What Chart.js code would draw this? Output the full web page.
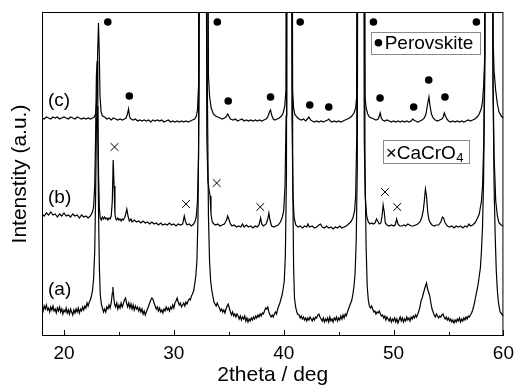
<!DOCTYPE html>
<html lang="en">
<head>
<meta charset="UTF-8">
<script src="https://cdn.jsdelivr.net/npm/chart.js"></script>
<title>XRD patterns</title>
<style>
  html, body { margin: 0; padding: 0; background: #fff; }
  #box { width: 520px; height: 388px; }
</style>
</head>
<body>
<div id="box"><canvas id="xrdChart"></canvas></div>
<script>
// x axis
const xTicks = [20, 30, 40, 50, 60];
const xMinorTicks = [25, 35, 45, 55];

// patterns, [2theta, intensity] (arbitrary, stacked offsets)
const patternA = [
  [18.0,29],[18.1,25],[18.2,30],[18.3,27],[18.4,31],[18.5,26],[18.6,28],[18.7,24],[18.8,29],[18.9,26],
  [19.0,30],[19.1,25],[19.2,27],[19.3,23],[19.4,28],[19.5,25],[19.6,29],[19.7,24],[19.8,27],[19.9,22],
  [20.0,26],[20.1,24],[20.2,28],[20.3,23],[20.4,26],[20.5,22],[20.6,27],[20.7,24],[20.8,21],[20.9,26],
  [21.0,23],[21.1,27],[21.2,24],[21.3,28],[21.4,23],[21.5,27],[21.6,25],[21.7,29],[21.8,26],[21.9,30],
  [22.0,28],[22.1,33],[22.2,30],[22.3,34],[22.4,36],[22.5,40],[22.6,46],[22.7,58],[22.8,85],[22.88,140],
  [22.95,210],[23.02,230],[23.08,200],[23.15,120],[23.22,70],[23.3,42],[23.4,32],[23.5,28],[23.6,24],[23.7,27],
  [23.8,24],[23.9,29],[24.0,27],[24.1,31],[24.2,28],[24.3,33],[24.4,43],[24.45,49],[24.52,40],[24.6,32],
  [24.7,29],[24.8,33],[24.9,27],[25.0,31],[25.1,28],[25.2,33],[25.3,29],[25.4,32],[25.5,36],[25.6,38],
  [25.7,33],[25.8,29],[25.9,33],[26.0,28],[26.1,32],[26.2,27],[26.3,31],[26.4,26],[26.5,30],[26.6,27],
  [26.7,29],[26.8,25],[26.9,28],[27.0,24],[27.1,27],[27.2,22],[27.3,25],[27.4,21],[27.5,24],[27.6,27],
  [27.7,30],[27.8,33],[27.9,36],[28.0,38],[28.1,37],[28.2,33],[28.3,30],[28.4,27],[28.5,29],[28.6,25],
  [28.7,28],[28.8,24],[28.9,26],[29.0,23],[29.1,27],[29.2,25],[29.3,29],[29.4,26],[29.5,28],[29.6,25],
  [29.7,29],[29.8,27],[29.9,31],[30.0,28],[30.1,33],[30.2,35],[30.3,38],[30.4,34],[30.5,31],[30.6,33],
  [30.7,29],[30.8,31],[30.9,33],[31.0,30],[31.1,34],[31.2,32],[31.3,35],[31.4,37],[31.5,36],[31.6,40],
  [31.7,42],[31.8,45],[31.9,52],[32.0,60],[32.1,75],[32.2,120],[32.3,250],[32.4,700],[32.95,700],[33.05,250],
  [33.15,120],[33.25,75],[33.35,55],[33.45,46],[33.55,40],[33.65,34],[33.75,32],[33.85,30],[33.95,33],[34.05,30],
  [34.15,28],[34.25,25],[34.35,27],[34.45,24],[34.55,26],[34.65,23],[34.75,27],[34.85,30],[34.95,32],[35.05,28],
  [35.15,24],[35.25,21],[35.35,24],[35.45,20],[35.55,22],[35.65,19],[35.75,22],[35.85,20],[35.95,17],[36.05,20],
  [36.15,16],[36.25,19],[36.35,17],[36.45,20],[36.55,15],[36.65,18],[36.75,14],[36.85,17],[36.95,15],[37.05,18],
  [37.15,16],[37.25,19],[37.35,17],[37.45,20],[37.55,18],[37.65,21],[37.75,19],[37.85,22],[37.95,20],[38.05,23],
  [38.15,22],[38.25,25],[38.35,28],[38.45,27],[38.55,29],[38.65,24],[38.75,21],[38.85,19],[38.95,21],[39.05,19],
  [39.15,22],[39.25,24],[39.35,22],[39.45,27],[39.55,30],[39.65,33],[39.75,37],[39.85,41],[39.95,47],[40.05,55],
  [40.15,80],[40.25,160],[40.32,700],[40.75,700],[40.82,160],[40.9,70],[40.98,38],[41.1,28],[41.25,22],[41.4,21],
  [41.5,18],[41.6,20],[41.7,17],[41.8,19],[41.9,16],[42.0,18],[42.1,15],[42.2,18],[42.3,16],[42.4,19],
  [42.5,17],[42.6,15],[42.7,18],[42.8,16],[42.9,19],[43.0,18],[43.1,21],[43.2,22],[43.3,19],[43.4,17],
  [43.5,15],[43.6,18],[43.7,14],[43.8,17],[43.9,15],[44.0,18],[44.1,14],[44.2,19],[44.3,15],[44.4,17],
  [44.5,14],[44.6,18],[44.7,16],[44.8,19],[44.9,15],[45.0,18],[45.1,16],[45.2,20],[45.3,17],[45.4,21],
  [45.5,18],[45.6,22],[45.7,20],[45.8,24],[45.9,27],[46.0,30],[46.1,33],[46.2,36],[46.3,42],[46.4,50],
  [46.5,63],[46.6,95],[46.7,170],[46.78,700],[47.3,700],[47.4,170],[47.5,90],[47.6,50],[47.7,36],[47.8,30],
  [47.9,28],[48.0,30],[48.1,27],[48.2,24],[48.3,25],[48.4,22],[48.5,24],[48.6,23],[48.7,25],[48.8,22],
  [48.9,20],[49.0,21],[49.1,18],[49.2,20],[49.3,16],[49.4,19],[49.5,17],[49.6,15],[49.7,18],[49.8,14],
  [49.9,17],[50.0,15],[50.1,18],[50.2,14],[50.3,17],[50.4,13],[50.5,16],[50.6,19],[50.7,15],[50.8,18],
  [50.9,14],[51.0,17],[51.1,15],[51.2,19],[51.3,16],[51.4,18],[51.5,15],[51.6,19],[51.7,17],[51.8,20],
  [51.9,18],[52.0,21],[52.1,19],[52.2,22],[52.3,25],[52.4,29],[52.5,35],[52.6,38],[52.7,42],[52.8,46],
  [52.9,50],[53.0,53],[53.08,48],[53.15,45],[53.27,41],[53.4,33],[53.5,27],[53.6,24],[53.7,21],[53.8,19],
  [53.9,22],[54.0,20],[54.1,18],[54.2,20],[54.3,19],[54.4,21],[54.5,22],[54.6,19],[54.7,17],[54.8,19],
  [54.9,16],[55.0,18],[55.1,15],[55.2,17],[55.3,14],[55.4,16],[55.5,13],[55.6,16],[55.7,14],[55.8,17],
  [55.9,15],[56.0,18],[56.1,14],[56.2,17],[56.3,15],[56.4,18],[56.5,16],[56.6,19],[56.7,17],[56.8,20],
  [56.9,19],[57.0,21],[57.1,23],[57.2,26],[57.3,30],[57.4,35],[57.5,41],[57.6,46],[57.7,52],[57.8,60],
  [57.9,68],[58.0,85],[58.1,110],[58.2,160],[58.3,260],[58.38,700],[58.95,700],[59.05,250],[59.15,150],[59.25,100],
  [59.35,65],[59.45,45],[59.55,33],[59.7,24],[59.85,22],[60.0,20]
];

const patternB = [
  [18.0,122],[18.2,120],[18.4,123],[18.6,121],[18.8,124],[19.0,121],[19.2,122],[19.4,119],[19.6,122],[19.8,120],
  [20.0,123],[20.2,120],[20.4,121],[20.6,119],[20.8,122],[21.0,120],[21.2,121],[21.4,118],[21.6,121],[21.8,119],
  [22.0,120],[22.2,118],[22.4,120],[22.5,122],[22.6,124],[22.7,130],[22.8,150],[22.88,200],[22.95,260],[23.02,275],
  [23.08,230],[23.15,160],[23.22,128],[23.3,118],[23.4,116],[23.5,119],[23.6,117],[23.7,119],[23.8,117],[23.9,118],
  [24.0,116],[24.1,118],[24.2,117],[24.3,120],[24.4,135],[24.48,176],[24.56,150],[24.64,122],[24.72,117],[24.8,116],
  [24.9,118],[25.0,116],[25.1,117],[25.2,115],[25.3,117],[25.4,116],[25.5,118],[25.6,121],[25.72,127],[25.85,119],
  [25.95,115],[26.1,117],[26.2,114],[26.4,116],[26.6,114],[26.8,115],[27.0,113],[27.2,115],[27.4,113],[27.6,114],
  [27.8,112],[28.0,114],[28.2,112],[28.4,113],[28.6,111],[28.8,113],[29.0,111],[29.2,112],[29.4,111],[29.6,113],
  [29.8,111],[30.0,112],[30.2,110],[30.4,112],[30.6,111],[30.8,112],[30.95,120],[31.05,115],[31.2,111],[31.4,112],
  [31.6,110],[31.8,112],[31.95,115],[32.05,120],[32.15,135],[32.25,180],[32.33,700],[32.9,700],[33.0,200],[33.1,155],
  [33.22,145],[33.3,140],[33.38,122],[33.5,114],[33.65,112],[33.8,111],[34.0,112],[34.2,110],[34.4,111],[34.6,112],
  [34.8,116],[34.9,120],[35.0,117],[35.15,112],[35.3,110],[35.5,111],[35.7,109],[35.9,110],[36.1,109],[36.25,112],
  [36.4,109],[36.6,111],[36.8,109],[37.0,110],[37.2,108],[37.4,110],[37.6,109],[37.75,111],[37.9,118],[38.0,112],
  [38.15,110],[38.4,112],[38.55,117],[38.65,123],[38.75,116],[38.9,110],[39.1,109],[39.3,110],[39.5,111],[39.7,114],
  [39.85,118],[40.0,125],[40.12,150],[40.22,220],[40.28,700],[40.68,700],[40.75,220],[40.85,140],[40.95,118],[41.1,111],
  [41.3,109],[41.5,110],[41.7,108],[41.9,110],[42.1,109],[42.2,112],[42.35,109],[42.6,110],[42.8,108],[43.0,109],
  [43.2,111],[43.35,112],[43.5,109],[43.7,108],[43.9,110],[44.1,108],[44.3,109],[44.5,107],[44.7,109],[44.9,108],
  [45.1,110],[45.3,108],[45.5,109],[45.7,110],[45.9,112],[46.1,114],[46.3,118],[46.45,125],[46.55,140],[46.65,200],
  [46.72,700],[47.25,700],[47.33,200],[47.42,140],[47.55,120],[47.7,114],[47.85,112],[48.0,113],[48.15,112],[48.3,113],
  [48.45,117],[48.55,115],[48.7,112],[48.85,113],[48.95,120],[49.05,131],[49.15,124],[49.25,113],[49.4,111],[49.6,110],
  [49.8,111],[50.0,110],[50.15,111],[50.28,117],[50.4,112],[50.55,110],[50.75,110],[50.95,111],[51.1,110],[51.3,112],
  [51.45,111],[51.6,110],[51.8,110],[52.0,111],[52.2,112],[52.4,114],[52.55,118],[52.7,125],[52.8,135],[52.9,147],
  [53.0,140],[53.1,125],[53.2,117],[53.35,113],[53.5,111],[53.7,110],[53.9,111],[54.1,111],[54.3,114],[54.45,119],
  [54.55,118],[54.7,113],[54.9,110],[55.1,109],[55.3,110],[55.5,108],[55.7,110],[55.9,109],[56.1,110],[56.3,108],
  [56.5,110],[56.7,109],[56.85,112],[57.0,110],[57.2,111],[57.4,113],[57.6,117],[57.8,122],[58.0,135],[58.1,150],
  [58.2,190],[58.3,280],[58.36,700],[58.95,700],[59.05,260],[59.15,180],[59.3,135],[59.45,120],[59.6,113],[59.8,111],
  [60.0,110]
];

const patternC = [
  [18.0,218],[18.2,217],[18.4,219],[18.6,218],[18.8,217],[19.0,219],[19.2,218],[19.4,219],[19.6,217],[19.8,218],
  [20.0,219],[20.2,218],[20.4,217],[20.6,219],[20.8,218],[21.0,217],[21.2,219],[21.4,218],[21.6,217],[21.8,218],
  [22.0,217],[22.2,218],[22.4,217],[22.6,218],[22.75,219],[22.88,222],[22.98,235],[23.06,280],[23.14,313],[23.21,285],
  [23.28,240],[23.38,224],[23.5,220],[23.7,219],[23.9,217],[24.1,218],[24.3,216],[24.5,218],[24.7,217],[24.9,216],
  [25.1,217],[25.3,216],[25.5,217],[25.65,218],[25.78,222],[25.88,227],[25.98,219],[26.1,217],[26.3,216],[26.5,217],
  [26.7,215],[26.9,216],[27.1,215],[27.3,216],[27.5,215],[27.7,216],[27.9,214],[28.1,216],[28.3,215],[28.5,216],
  [28.7,215],[28.9,216],[29.1,214],[29.3,215],[29.5,216],[29.7,214],[29.9,215],[30.1,214],[30.3,215],[30.5,214],
  [30.7,215],[30.9,214],[31.1,215],[31.3,214],[31.5,215],[31.7,216],[31.9,217],[32.05,220],[32.15,226],[32.25,250],
  [32.32,700],[33.05,700],[33.15,260],[33.25,240],[33.4,228],[33.6,222],[33.8,220],[34.0,219],[34.2,218],[34.4,217],
  [34.6,218],[34.75,219],[34.9,222],[35.0,220],[35.15,217],[35.4,216],[35.6,217],[35.8,215],[36.0,216],[36.2,217],
  [36.4,215],[36.6,216],[36.8,215],[37.0,216],[37.2,215],[37.4,216],[37.6,215],[37.8,216],[38.0,215],[38.2,216],
  [38.4,217],[38.55,219],[38.7,224],[38.8,226],[38.9,221],[39.05,217],[39.2,216],[39.4,217],[39.6,218],[39.8,220],
  [39.95,223],[40.1,230],[40.2,245],[40.28,700],[40.72,700],[40.8,245],[40.9,228],[41.0,222],[41.2,219],[41.4,217],
  [41.6,216],[41.8,217],[42.0,215],[42.15,217],[42.3,219],[42.45,216],[42.6,215],[42.8,214],[43.0,215],[43.2,214],
  [43.4,215],[43.6,214],[43.8,215],[44.0,216],[44.1,217],[44.25,215],[44.4,214],[44.6,215],[44.8,214],[45.0,215],
  [45.2,214],[45.4,215],[45.6,216],[45.8,217],[46.0,218],[46.2,220],[46.4,223],[46.55,228],[46.65,240],[46.75,700],
  [47.3,700],[47.4,240],[47.5,228],[47.65,222],[47.8,219],[48.0,218],[48.2,217],[48.4,216],[48.6,217],[48.7,220],
  [48.78,223],[48.88,218],[49.0,216],[49.2,215],[49.4,216],[49.6,215],[49.8,214],[50.0,215],[50.2,214],[50.4,215],
  [50.6,214],[50.8,215],[51.0,214],[51.2,215],[51.4,214],[51.6,215],[51.75,217],[51.85,216],[52.0,215],[52.2,214],
  [52.4,215],[52.6,216],[52.8,218],[52.95,222],[53.1,232],[53.22,239],[53.32,230],[53.45,222],[53.6,218],[53.8,216],
  [54.0,215],[54.2,216],[54.4,217],[54.52,219],[54.62,223],[54.72,220],[54.85,217],[55.0,215],[55.2,214],[55.4,215],
  [55.6,214],[55.8,215],[56.0,214],[56.2,215],[56.4,214],[56.6,215],[56.8,216],[57.0,215],[57.2,216],[57.4,217],
  [57.6,219],[57.8,222],[58.0,228],[58.1,235],[58.2,250],[58.3,280],[58.38,700],[58.95,700],[59.05,300],[59.15,265],
  [59.3,245],[59.45,232],[59.6,224],[59.8,220],[60.0,218]
];

// phase markers
const perovskitePeaks = [
  [23.99,314],[25.95,240],[33.96,314],[34.95,235],[38.8,239],[41.5,314],[42.37,231],
  [44.1,229],[48.17,314],[48.77,238],[51.83,229],[53.2,256],[54.68,239],[57.54,314]
];
const cacro4Peaks = [[24.6,189],[31.1,132],[33.9,153],[37.87,129],[49.22,144],[50.33,129]];

const curveLabels = ['(a)', '(b)', '(c)'];

const FONT = '"Liberation Sans", Arial, Helvetica, sans-serif';

const decorations = {
  id: 'decorations',
  afterDatasetsDraw(chart) {
    const { ctx, chartArea: a, scales: { x, y } } = chart;
    ctx.save();
    ctx.strokeStyle = '#000';
    ctx.lineWidth = 1;
    ctx.strokeRect(a.left + 0.5, a.top + 0.5, a.right - a.left - 1, a.bottom - a.top - 1);

    // ticks point inward
    ctx.beginPath();
    xTicks.forEach(v => {
      const px = Math.round(x.getPixelForValue(v)) + 0.5;
      ctx.moveTo(px, a.bottom); ctx.lineTo(px, a.bottom - 6);
    });
    xMinorTicks.forEach(v => {
      const px = Math.round(x.getPixelForValue(v)) + 0.5;
      ctx.moveTo(px, a.bottom); ctx.lineTo(px, a.bottom - 4);
    });
    ctx.stroke();

    // (a) (b) (c)
    ctx.fillStyle = '#000';
    ctx.font = '19px ' + FONT;
    ctx.textAlign = 'left';
    ctx.textBaseline = 'middle';
    const labelY = [46, 138, 235];
    curveLabels.forEach((t, i) => {
      ctx.fillText(t, x.getPixelForValue(18.55), y.getPixelForValue(labelY[i]));
    });

    // legend boxes
    ctx.strokeStyle = '#888';
    let x1 = x.getPixelForValue(47.95), x2 = x.getPixelForValue(57.84);
    let y1 = y.getPixelForValue(304.3), y2 = y.getPixelForValue(282.7);
    ctx.strokeRect(Math.round(x1) + 0.5, Math.round(y1) + 0.5, Math.round(x2 - x1), Math.round(y2 - y1));
    ctx.beginPath();
    ctx.arc(x.getPixelForValue(48.62), y.getPixelForValue(293.3), 3.8, 0, Math.PI * 2);
    ctx.fill();
    ctx.textBaseline = 'alphabetic';
    ctx.fillText('Perovskite', x.getPixelForValue(49.19), y.getPixelForValue(286.7));

    x1 = x.getPixelForValue(49.01); x2 = x.getPixelForValue(56.87);
    y1 = y.getPixelForValue(196); y2 = y.getPixelForValue(172.7);
    ctx.strokeRect(Math.round(x1) + 0.5, Math.round(y1) + 0.5, Math.round(x2 - x1), Math.round(y2 - y1));
    const tx = x.getPixelForValue(49.28), ty = y.getPixelForValue(176.7);
    const main = '\u00d7CaCrO';
    ctx.fillText(main, tx, ty);
    const w = ctx.measureText(main).width;
    ctx.font = '13px ' + FONT;
    ctx.fillText('4', tx + w + 0.5, ty + 3);
    ctx.restore();
  }
};

const lineStyle = { borderColor: '#000', borderWidth: 1.2, pointRadius: 0, tension: 0, fill: false };
const toXY = arr => arr.map(p => ({ x: p[0], y: p[1] }));

new Chart(document.getElementById('xrdChart'), {
  type: 'line',
  plugins: [decorations],
  data: {
    datasets: [
      { label: '(a)', data: toXY(patternA), ...lineStyle },
      { label: '(b)', data: toXY(patternB), ...lineStyle },
      { label: '(c)', data: toXY(patternC), ...lineStyle },
      { type: 'scatter', label: 'Perovskite', data: toXY(perovskitePeaks), pointStyle: 'circle',
        pointRadius: 3.8, backgroundColor: '#000', borderWidth: 0, showLine: false },
      { type: 'scatter', label: 'CaCrO4', data: toXY(cacro4Peaks), pointStyle: 'crossRot',
        pointRadius: 5.5, borderColor: '#000', borderWidth: 1, showLine: false }
    ]
  },
  options: {
    responsive: true,
    maintainAspectRatio: false,
    animation: false,
    layout: { padding: { top: 12, right: 13, left: 0, bottom: 0 } },
    plugins: { legend: { display: false }, tooltip: { enabled: false } },
    scales: {
      x: {
        type: 'linear', min: 18, max: 60,
        grid: { display: false, drawTicks: false },
        border: { display: false },
        afterBuildTicks: s => { s.ticks = xTicks.map(v => ({ value: v })); },
        afterFit: s => { s.height = 52; },
        ticks: { padding: 6, color: '#000', font: { family: FONT, size: 19 } },
        title: { display: true, text: '2theta / deg', color: '#000',
                 font: { family: FONT, size: 21 }, padding: { top: 0, bottom: 0 } }
      },
      y: {
        type: 'linear', min: 0, max: 324,
        grid: { display: false, drawTicks: false },
        border: { display: false },
        ticks: { display: false },
        afterFit: s => { s.width = 42; },
        title: { display: true, text: 'Intenstity (a.u.)', color: '#000',
                 font: { family: FONT, size: 21 }, padding: { top: 8, bottom: 0 } }
      }
    }
  }
});
</script>
</body>
</html>
